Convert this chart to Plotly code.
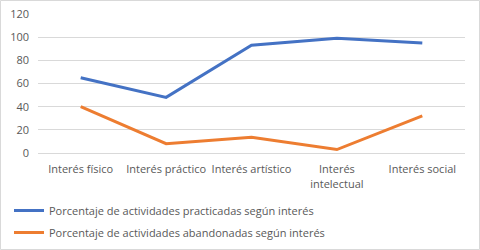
import plotly.graph_objects as go

categories = ["Interés físico", "Interés práctico", "Interés artístico", "Interés<br>intelectual", "Interés social"]
practicadas = [65, 48, 93, 99, 95]
abandonadas = [40, 8, 13.5, 3, 32]
series_names = ["Porcentaje de actividades practicadas según interés",
                "Porcentaje de actividades abandonadas según interés"]
y_ticks = [0, 20, 40, 60, 80, 100, 120]

L, R, T, B = 38, 15, 14, 97
W, H = 480, 250
pw = W - L - R
ph = H - T - B

fig = go.Figure()
fig.add_trace(go.Scatter(x=list(range(len(categories))), y=practicadas, mode="lines",
                         name=series_names[0], legendgroup="a", line=dict(color="#4472C4", width=3)))
fig.add_trace(go.Scatter(x=list(range(len(categories))), y=abandonadas, mode="lines",
                         name=series_names[1], legendgroup="b", line=dict(color="#ED7D31", width=3)))

font = dict(family="Open Sans, Liberation Sans, sans-serif", size=11, color="#595959")

fig.update_layout(
    width=W, height=H,
    margin=dict(l=L, r=R, t=T, b=B, autoexpand=False),
    paper_bgcolor="white", plot_bgcolor="white",
    font=font,
    showlegend=True,
    legend=dict(orientation="v", xref="container", yref="container",
                x=9 / W, xanchor="left", y=(H - 196) / H, yanchor="top",
                font=dict(family=font["family"], size=11, color="#595959"),
                itemwidth=30, bgcolor="rgba(0,0,0,0)", tracegroupgap=3),
    xaxis=dict(tickmode="array", tickvals=list(range(len(categories))), ticktext=categories,
               range=[-0.5, len(categories) - 0.5], showgrid=False, zeroline=False,
               showline=True, linecolor="#d9d9d9", linewidth=1, ticks="", fixedrange=True,
               ticklabelstandoff=6),
    yaxis=dict(range=[0, 120], tickvals=y_ticks, showgrid=True, gridcolor="#d9d9d9", gridwidth=1,
               zeroline=False, showline=False, ticks="", ticklabelstandoff=8, fixedrange=True),
    shapes=[dict(type="rect", xref="paper", yref="paper",
                 x0=(0.5 - L) / pw, x1=(479.5 - L) / pw,
                 y0=(T + ph - 249.5) / ph, y1=(T + ph - 0.5) / ph,
                 line=dict(color="#d9d9d9", width=1), fillcolor="rgba(0,0,0,0)", layer="above")],
)

fig.write_html("out.html", config={"displayModeBar": False},
               post_script="document.body.style.margin='0';document.body.style.padding='0';")
